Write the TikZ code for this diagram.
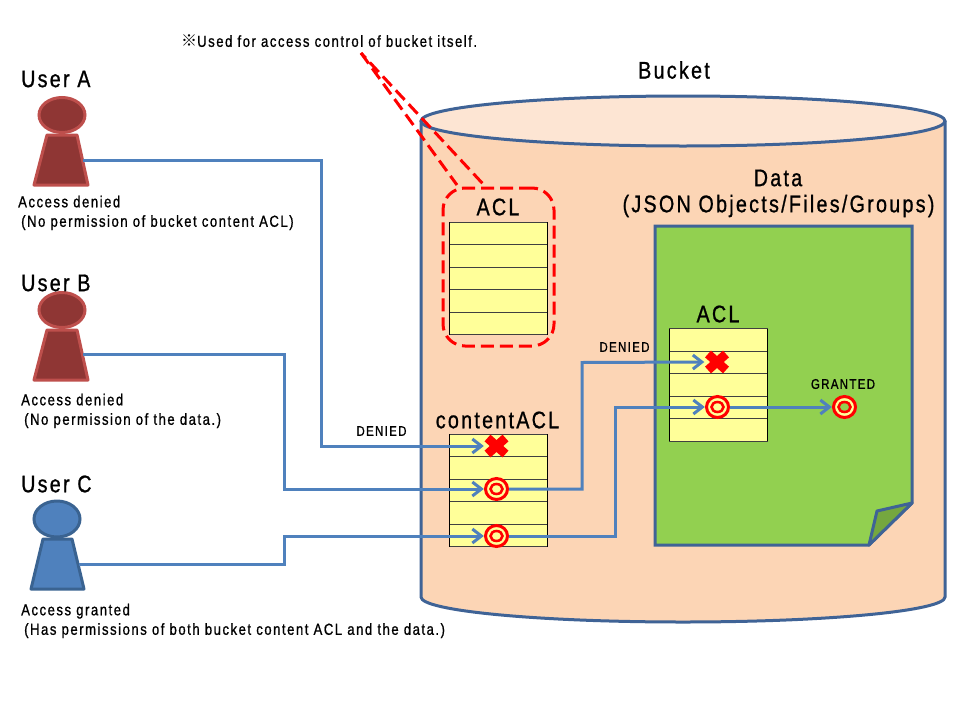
\documentclass[tikz,border=0pt]{standalone}
\usepackage{fontspec}
\setmainfont[FakeStretch=0.82,LetterSpace=9.5,FakeBold=0.9]{Liberation Sans}
\newfontfamily\cjkf{Noto Sans CJK JP}
\usetikzlibrary{arrows.meta}
\definecolor{cylfill}{HTML}{FCD5B5}
\definecolor{cyltop}{HTML}{FDE5D3}
\definecolor{edgeblue}{HTML}{3F6396}
\definecolor{conn}{HTML}{4F81BD}
\definecolor{pagegreen}{HTML}{92D050}
\definecolor{foldgreen}{HTML}{75A73F}
\definecolor{tabyellow}{HTML}{FFFF99}
\definecolor{usrred}{HTML}{8F3634}
\definecolor{usredge}{HTML}{BE4F4C}
\definecolor{usrblue}{HTML}{4F81BD}
\definecolor{usrbedge}{HTML}{3A6391}
\tikzset{
  big/.style={font=\fontsize{24}{28}\selectfont,inner sep=0pt},
  mid/.style={font=\fontsize{16}{19.5}\selectfont,inner sep=0pt,align=left,anchor=west},
  small/.style={font=\fontsize{14}{18}\selectfont,inner sep=0pt},
  link/.style={draw=conn,line width=3pt,line join=miter},
  linka/.style={link,-{Straight Barb[length=9pt,width=14pt,line width=3pt]}},
  redline/.style={draw=red,line width=3pt,dash pattern=on 13pt off 6pt},
  tabrow/.style={draw=black!75,line width=1pt},
  spot/.style={inner sep=0pt,minimum size=25pt,circle},
}
\newcommand{\acltable}[3]{% x, y top, rows pitch fixed
  \fill[tabyellow] (#1,#2) rectangle (#1+98.5,#2+112.5);
  \foreach \r in {0,1,2,3,4,5} \draw[tabrow] (#1,#2+22.5*\r) -- (#1+98.5,#2+22.5*\r);
  \draw[black,line width=1pt] (#1,#2) -- (#1,#2+112.5) (#1+98.5,#2) -- (#1+98.5,#2+112.5);
}
\newcommand{\donut}[4]{% name, x, y, centre colour
  \node[spot] (#1) at (#2,#3) {};
  \draw[red,line width=3pt,fill=tabyellow] (#2,#3) ellipse [x radius=11pt,y radius=10.5pt];
  \draw[red,line width=2.5pt,fill=#4] (#2,#3) ellipse [x radius=6pt,y radius=5pt];
}
\newcommand{\crossm}[3]{% name, x, y
  \node[spot] (#1) at (#2,#3) {};
  \draw[red,line width=9pt] (#2-9,#3-8) -- (#2+9,#3+8) (#2-9,#3+8) -- (#2+9,#3-8);
}
\begin{document}
\begin{tikzpicture}[x=1pt,y=-1pt]
\useasboundingbox (0,0) rectangle (960,720);
\fill[white] (0,0) rectangle (960,720);
% cylinder
\fill[cylfill] (421,121) rectangle (945,597);
\fill[cylfill] (421,597) arc[start angle=180,end angle=0,x radius=262,y radius=25] -- cycle;
\draw[edgeblue,line width=3pt] (421,121) -- (421,597) arc[start angle=180,end angle=0,x radius=262,y radius=25] -- (945,121);
\draw[edgeblue,line width=3pt,fill=cyltop] (683,121) ellipse [x radius=262,y radius=25];
% callout
\node[draw=red,line width=3pt,dash pattern=on 13pt off 6pt,rounded corners=22pt,minimum width=111pt,minimum height=158pt,inner sep=0pt] (callout) at (498.5,267) {};
\coordinate (note) at (361,53);
\coordinate (c1) at (457,185);
\coordinate (c2) at (484,185);
\draw[redline] (note) -- (c1);
\draw[redline,dash phase=6pt] (note) -- (c2);
% page
\draw[edgeblue,line width=3pt,fill=pagegreen,line join=miter] (655,226) -- (912,226) -- (912,503) -- (869,545) -- (655,545) -- cycle;
\draw[edgeblue,line width=3pt,fill=foldgreen,line join=round] (912,503) -- (877,511) -- (869,545) -- cycle;
% tables
\acltable{449}{222}{}
\acltable{449}{434}{}
\acltable{669}{328.5}{}
% users
\draw[usredge,line width=3pt,line join=round,fill=usrred] (47,135) -- (77,135) -- (88,185) -- (34,185) -- cycle;
\draw[usredge,line width=3pt,fill=usrred] (62,115) ellipse [x radius=23pt,y radius=17.5pt];
\coordinate (ua) at (83,160);
\draw[usredge,line width=3pt,line join=round,fill=usrred] (47,330) -- (77,330) -- (88,380) -- (34,380) -- cycle;
\draw[usredge,line width=3pt,fill=usrred] (62,310) ellipse [x radius=23pt,y radius=17.5pt];
\coordinate (ub) at (83,354);
\draw[usrbedge,line width=3pt,line join=round,fill=usrblue] (43,539) -- (72,539) -- (84,589) -- (31,589) -- cycle;
\draw[usrbedge,line width=3pt,fill=usrblue] (57,519) ellipse [x radius=23pt,y radius=18pt];
\coordinate (uc) at (79,564.5);
% marks
\crossm{xa}{496.5}{446}
\donut{db}{496.5}{489}{tabyellow}
\donut{dc}{496.5}{536}{tabyellow}
\crossm{xd}{717}{362}
\donut{dd}{717.5}{407}{tabyellow}
\donut{dg}{844.5}{407}{pagegreen}
% connectors
\draw[linka] (ua) -- (321,160) -- (321,446) -- (xa.west);
\draw[linka] (ub) -- (284,354) -- (284,489) -- (db.west);
\draw[linka] (uc) -- (284,564.5) -- (284,536) -- (dc.west);
\draw[linka] (db.east) -- (582,489) -- (582,362.5) -- (xd.west);
\draw[linka] (dc.east) -- (615,536) -- (615,407) -- (dd.west);
\draw[linka] (dd.east) -- (dg.west);
% texts
\node[mid,font=\fontsize{16}{18}\selectfont] (n0) at (181,41) {{\cjkf ※}Used for access control of bucket itself.};
\node[big] (bk) at (674,70) {Bucket};
\node[big,anchor=west] (la) at (21,79) {User A};
\node[big,anchor=west] (lb) at (21,283) {User B};
\node[big,anchor=west] (lc) at (21,484) {User C};
\node[mid,anchor=north west] (ta) at (18,195.5) {Access denied\\[0pt]\hspace{3pt}(No permission of bucket content ACL)};
\node[mid,anchor=north west] (tb) at (21,393.5) {Access denied\\[0pt]\hspace{3pt}(No permission of the data.)};
\node[mid,anchor=north west] (tc) at (21,603.5) {Access granted\\[0pt]\hspace{3pt}(Has permissions of both bucket content ACL and the data.)};
\node[big] (t1) at (498,207) {ACL};
\node[big] (t2) at (497.5,420) {contentACL};
\node[big] (t3) at (718,314) {ACL};
\node[big] (t4) at (778,178) {Data};
\node[big] (t5) at (778.5,206) {(JSON Objects/Files/Groups)};
\node[small] (d1) at (381.5,431) {DENIED};
\node[small] (d2) at (624.5,347) {DENIED};
\node[small] (g1) at (843,384) {GRANTED};
\end{tikzpicture}
\end{document}
